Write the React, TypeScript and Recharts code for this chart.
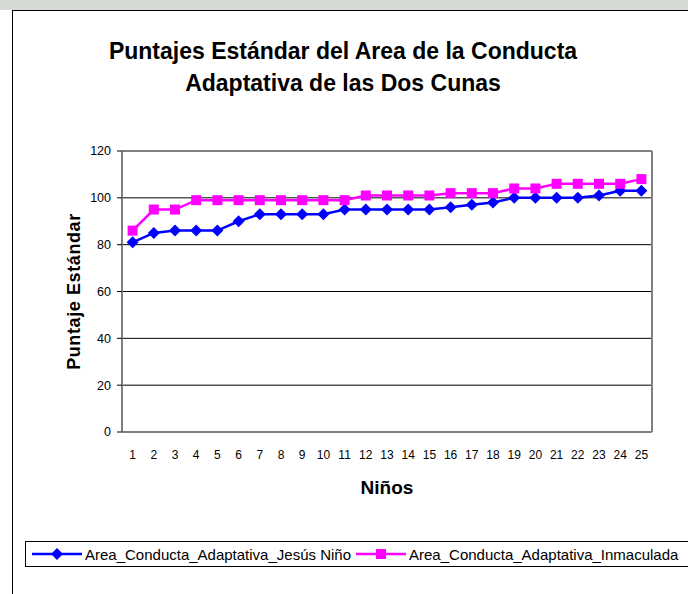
import { LineChart, Line, XAxis, YAxis, CartesianGrid, ReferenceLine } from 'recharts'

const ninos = [1, 2, 3, 4, 5, 6, 7, 8, 9, 10, 11, 12, 13, 14, 15, 16, 17, 18, 19, 20, 21, 22, 23, 24, 25]
const jesusNino = [81, 85, 86, 86, 86, 90, 93, 93, 93, 93, 95, 95, 95, 95, 95, 96, 97, 98, 100, 100, 100, 100, 101, 103, 103]
const inmaculada = [86, 95, 95, 99, 99, 99, 99, 99, 99, 99, 99, 101, 101, 101, 101, 102, 102, 102, 104, 104, 106, 106, 106, 106, 108]
const yTicks = [0, 20, 40, 60, 80, 100, 120]
const bandEdges = [0.5, ...ninos.map((n) => n + 0.5)]

const SERIES_A = 'Area_Conducta_Adaptativa_Jesús Niño'
const SERIES_B = 'Area_Conducta_Adaptativa_Inmaculada'
const BLUE = '#0000ff'
const PINK = '#ff00ff'
const FONT = '"Liberation Sans", Arial, sans-serif'

const chartData = ninos.map((n, i) => ({
  nino: n,
  jesus: jesusNino[i],
  inma: inmaculada[i],
}))

function Diamond(props: any) {
  const { cx, cy, index } = props
  if (cx == null || cy == null) return <g key={index} />
  const r = 6
  return (
    <path
      key={index}
      d={`M${cx},${cy - r} L${cx + r},${cy} L${cx},${cy + r} L${cx - r},${cy} Z`}
      fill={BLUE}
    />
  )
}

function Square(props: any) {
  const { cx, cy, index } = props
  if (cx == null || cy == null) return <g key={index} />
  const r = 5
  return <rect key={index} x={cx - r} y={cy - r} width={r * 2} height={r * 2} fill={PINK} />
}

function YLabel(props: any) {
  const { viewBox } = props
  const x = viewBox.x + 80
  const y = viewBox.y + viewBox.height / 2
  return (
    <text
      x={x}
      y={y}
      transform={`rotate(-90 ${x} ${y})`}
      textAnchor="middle"
      fontFamily={FONT}
      fontWeight="bold"
      fontSize={18}
      letterSpacing={0.6}
      fill="#000"
    >
      Puntaje Estándar
    </text>
  )
}

function LegendItem({ color, label, marker }: { color: string; label: string; marker: 'diamond' | 'square' }) {
  return (
    <div style={{ display: 'flex', alignItems: 'center', marginRight: 5 }}>
      <svg width={50} height={14} style={{ marginRight: 3 }}>
        <line x1={0} y1={7} x2={50} y2={7} stroke={color} strokeWidth={2.5} />
        {marker === 'diamond' ? (
          <path d="M25,1 L31,7 L25,13 L19,7 Z" fill={color} />
        ) : (
          <rect x={20} y={2} width={10} height={10} fill={color} />
        )}
      </svg>
      <span style={{ fontFamily: FONT, fontSize: 15, whiteSpace: 'nowrap' }}>{label}</span>
    </div>
  )
}

export default function App() {
  return (
    <div style={{ position: 'absolute', left: 0, top: 0, width: 688, height: 594, overflow: 'hidden', background: '#fff' }}>
      <div style={{ position: 'absolute', left: 0, top: 0, width: 688, height: 10, background: '#d4dad4' }} />
      <div
        style={{
          position: 'absolute',
          left: 12,
          top: 10,
          width: 720,
          height: 620,
          border: '1px solid #000',
          background: '#fff',
        }}
      />
      <div
        style={{
          position: 'absolute',
          left: 43,
          top: 35,
          width: 600,
          textAlign: 'center',
          fontFamily: FONT,
          fontWeight: 'bold',
          fontSize: 23,
          lineHeight: '32px',
          color: '#000',
        }}
      >
        Puntajes Estándar del Area de la Conducta
        <br />
        Adaptativa de las Dos Cunas
      </div>
      <div style={{ position: 'absolute', left: 0, top: 0 }}>
        <LineChart width={688} height={594} data={chartData} margin={{ top: 151, right: 36, bottom: 132, left: 0 }}>
          <CartesianGrid vertical={false} stroke="#000" strokeWidth={1} xAxisId="lab" />
          <XAxis
            xAxisId="tk"
            type="number"
            dataKey="nino"
            domain={[0.5, 25.5]}
            ticks={bandEdges}
            interval={0}
            tick={false}
            tickLine={{ stroke: '#000' }}
            tickSize={5}
            axisLine={false}
            height={0}
          />
          <XAxis
            xAxisId="lab"
            type="number"
            dataKey="nino"
            domain={[0.5, 25.5]}
            ticks={ninos}
            interval={0}
            tickLine={false}
            axisLine={{ stroke: '#808080', strokeWidth: 2 }}
            tick={{ fontSize: 12, fill: '#000', fontFamily: FONT }}
            tickMargin={12}
            height={30}
            label={{
              value: 'Niños',
              position: 'insideBottom',
              offset: -32,
              style: { fontFamily: FONT, fontWeight: 'bold', fontSize: 19, fill: '#000' },
            }}
          />
          <YAxis
            domain={[0, 120]}
            ticks={yTicks}
            interval={0}
            width={122}
            tickSize={5}
            tickMargin={6}
            tickLine={{ stroke: '#000' }}
            axisLine={{ stroke: '#808080', strokeWidth: 2 }}
            tick={{ fontSize: 12.5, fill: '#000', fontFamily: FONT }}
            label={<YLabel />}
          />
          <ReferenceLine xAxisId="lab" x={25.5} stroke="#808080" strokeWidth={2} />
          <Line
            xAxisId="lab"
            dataKey="jesus"
            name={SERIES_A}
            stroke={BLUE}
            strokeWidth={2.5}
            dot={Diamond}
            isAnimationActive={false}
          />
          <Line
            xAxisId="lab"
            dataKey="inma"
            name={SERIES_B}
            stroke={PINK}
            strokeWidth={2.5}
            dot={Square}
            isAnimationActive={false}
          />
        </LineChart>
      </div>
      <div
        style={{
          position: 'absolute',
          left: 25,
          top: 541,
          width: 720,
          height: 26,
          border: '1px solid #000',
          display: 'flex',
          alignItems: 'center',
          paddingLeft: 6,
          boxSizing: 'border-box',
        }}
      >
        <LegendItem color={BLUE} label={SERIES_A} marker="diamond" />
        <LegendItem color={PINK} label={SERIES_B} marker="square" />
      </div>
    </div>
  )
}
